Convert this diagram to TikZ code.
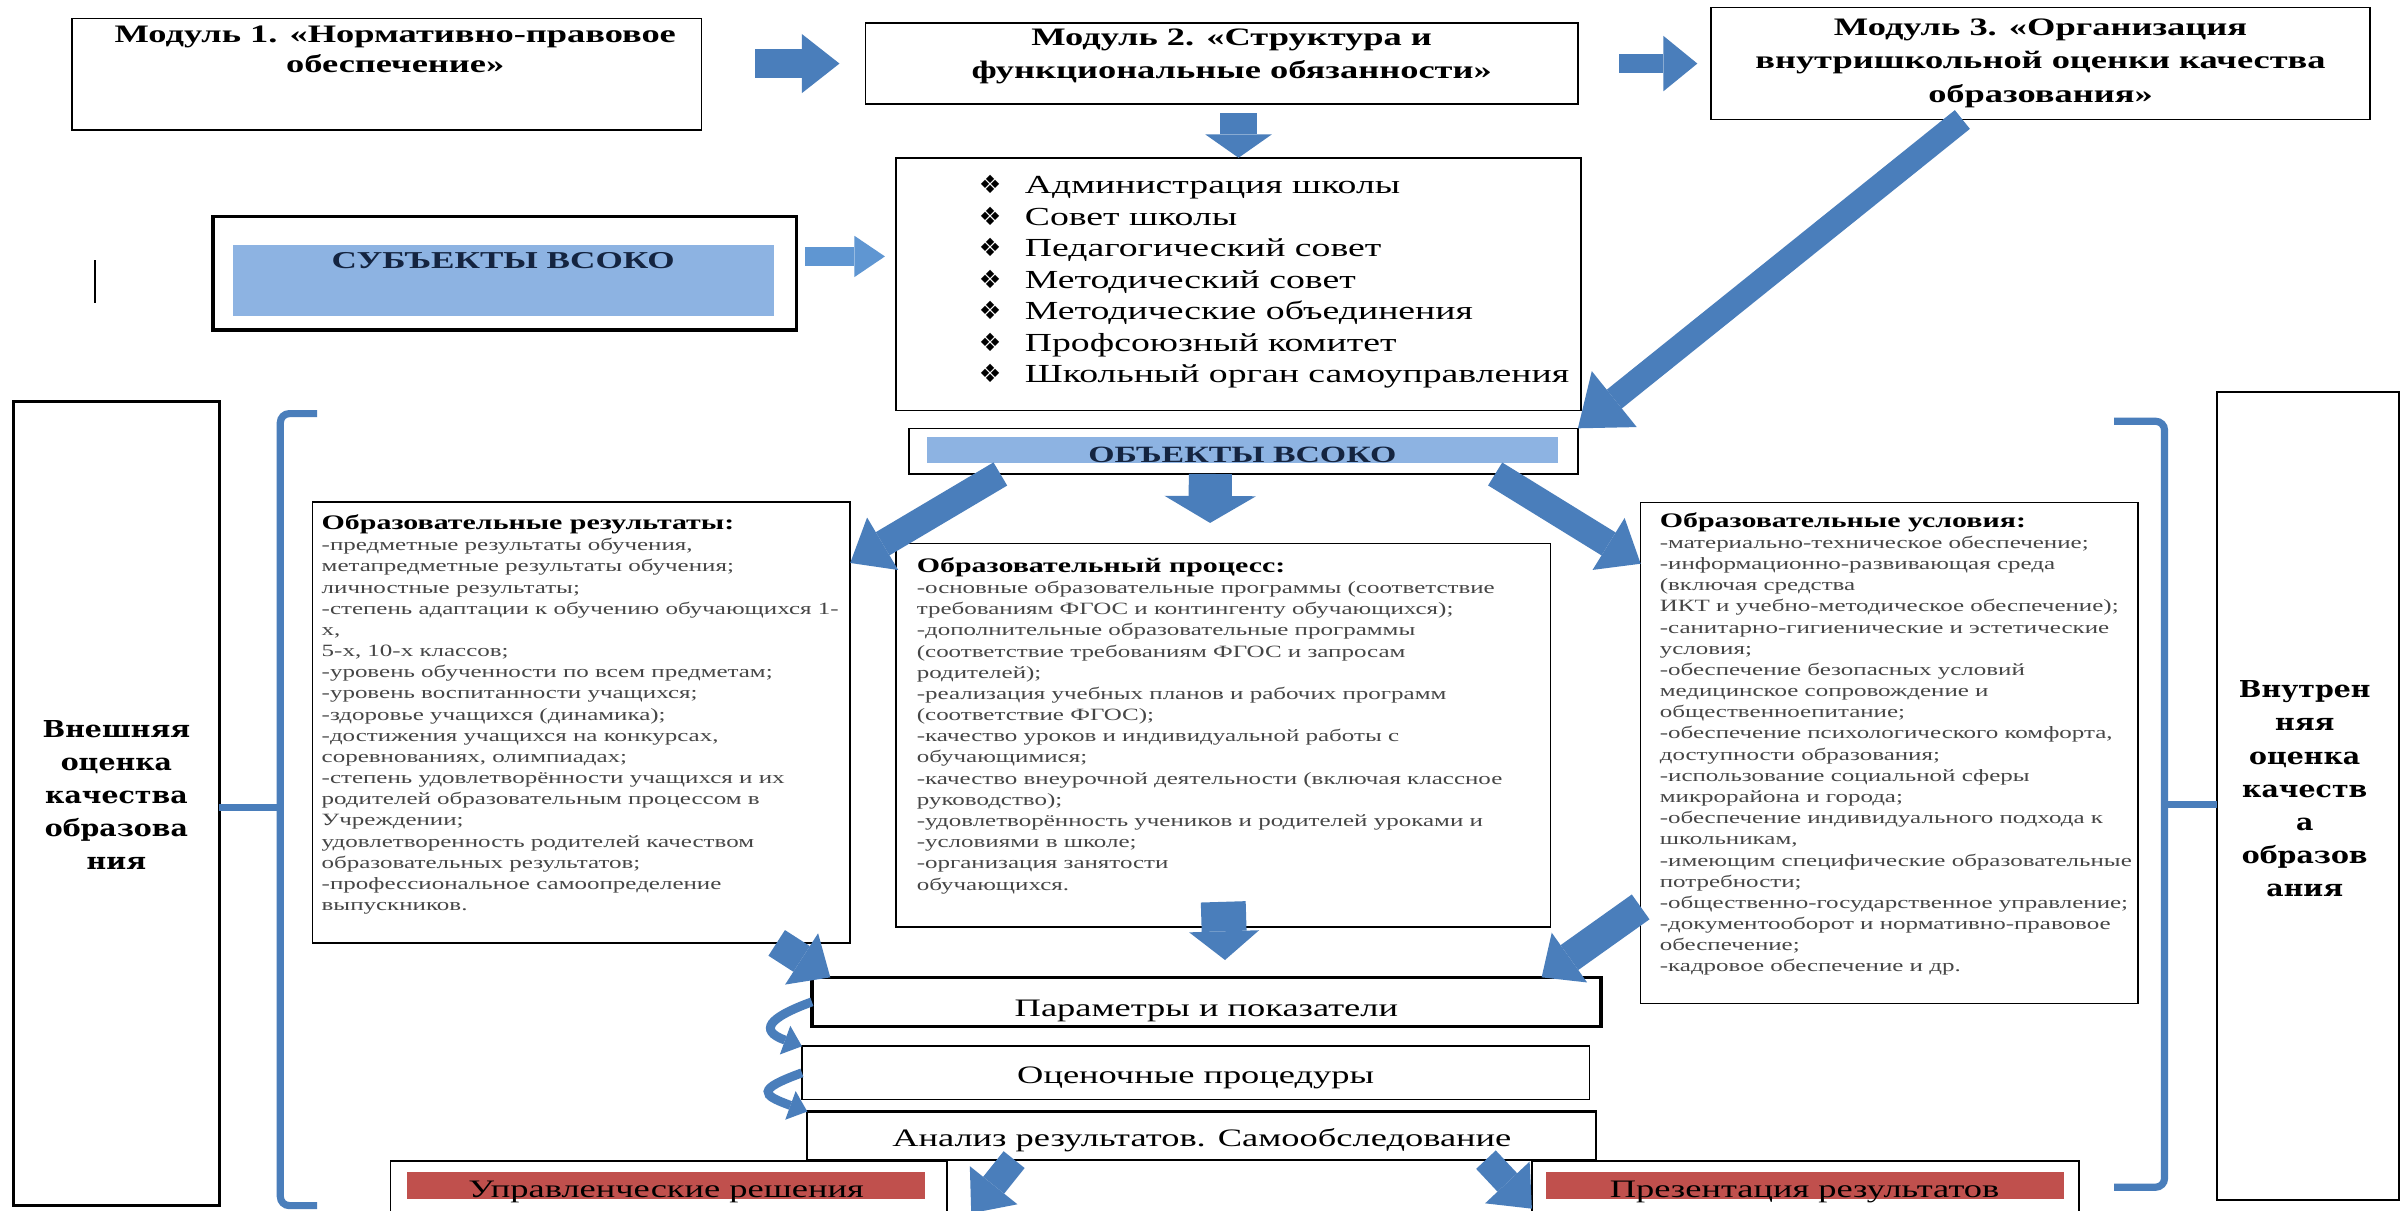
\documentclass[tikz,border=0pt]{standalone}
\usepackage{fontspec}
\setmainfont{Liberation Serif}[FakeStretch=1.45]
\newfontfamily\slabfont{DejaVu Serif}[FakeStretch=1.15]
\newfontfamily\dingfont{DejaVu Sans}
\usetikzlibrary{arrows.meta}

\definecolor{arrblue}{RGB}{74,126,187}
\definecolor{subjarr}{RGB}{95,150,210}
\definecolor{barblue}{RGB}{141,179,226}
\definecolor{barred}{RGB}{192,80,77}
\definecolor{navy}{RGB}{20,36,64}
\definecolor{greytxt}{RGB}{70,70,70}

\newcommand{\itm}{\mbox{\dingfont\fontsize{14}{14}\selectfont ❖}\hspace{0.9em}\rmfamily}

\begin{document}
\begin{tikzpicture}[x=0.03cm, y=-0.03cm,
	every node/.style={inner sep=0pt, outer sep=0pt},
	box/.style={draw, line width=0.9pt, anchor=north west},
	heavybox/.style={box, line width=2pt},
	bluebar/.style={anchor=north west, fill=barblue, text=navy, font=\fontsize{13.5}{13.5}\selectfont\bfseries},
	redbar/.style={anchor=north west, fill=barred, font=\fontsize{14}{14}\selectfont},
	modtext/.style={anchor=north, align=center, font=\fontsize{14}{16.5}\selectfont\bfseries},
	bodytext/.style={anchor=north west, align=left, text=greytxt, font=\fontsize{9.6}{11.8}\selectfont},
	sidetext/.style={align=center, font=\slabfont\bfseries\fontsize{13}{18.5}\selectfont},
	arr/.style n args={3}{arrblue, line width=#1, -{Triangle[length=#2, width=#3, line width=0pt]}},
	curv/.style={arrblue, line width=5pt, -{Triangle[length=10pt, width=17pt, line width=0pt]}},
	brace/.style={arrblue, line width=4pt, rounded corners=5pt}
	]

\useasboundingbox (0,0) rectangle (1568,790);
\fill[white] (0,0) rectangle (1568,790);
\clip (0,0) rectangle (1568,790);

\node[box, minimum width=12.33cm, minimum height=2.19cm] (m1) at (47,12) {};
\node[modtext] (m1txt) at (258,17) {Модуль 1. «Нормативно-правовое\\обеспечение»};
\node[box, minimum width=13.95cm, minimum height=1.59cm] (m2) at (565,15) {};
\node[modtext, font=\fontsize{14}{18}\selectfont\bfseries] (m2txt) at (804,19) {Модуль 2. «Структура и\\функциональные обязанности»};
\node[box, minimum width=12.9cm, minimum height=2.19cm] (m3) at (1117,5) {};
\node[modtext, font=\fontsize{14}{18.8}\selectfont\bfseries] (m3txt) at (1332,12) {Модуль 3. «Организация\\внутришкольной оценки качества\\образования»};

\node[box, minimum width=13.41cm, minimum height=4.95cm] (lst) at (585,103) {};
\node[anchor=west, align=left, font=\fontsize{14.5}{17.5}\selectfont] (lsttxt) at (639,184)
	{\itm Администрация школы\\ \itm Совет школы\\ \itm Педагогический совет\\ \itm Методический совет\\
	 \itm Методические объединения\\ \itm Профсоюзный комитет\\ \itm Школьный орган самоуправления};

\node[heavybox, minimum width=11.43cm, minimum height=2.22cm] (subj) at (139,141.4) {};
\node[bluebar, minimum width=10.59cm, text height=0.456cm, text depth=0.924cm] (subjbar) at (152,160) {СУБЪЕКТЫ ВСОКО};
\draw[line width=1.2pt] (62,170) -- (62,198);

\node[box, minimum width=13.095cm, minimum height=0.894cm] (obj) at (593.5,279.6) {};
\node[bluebar, font=\fontsize{13}{13}\selectfont\bfseries, minimum width=12.36cm, text height=0.51cm, text depth=0cm] (objbar) at (605,285) {ОБЪЕКТЫ ВСОКО};

\node[box, line width=1.6pt, minimum width=4.02cm, minimum height=15.75cm] (ext) at (9,262) {};
\node[sidetext] (exttxt) at (76,519) {Внешняя\\оценка\\качества\\образова\\ния};
\node[box, line width=1.1pt, minimum width=3.57cm, minimum height=15.81cm] (int) at (1447,256) {};
\node[sidetext] (inttxt) at (1504.5,515) {Внутрен\\няя\\оценка\\качеств\\а\\образов\\ания};

\node[box, minimum width=10.53cm, minimum height=8.64cm] (res) at (204,327.5) {};
\node[bodytext] (restxt) at (210,336) {{\fontsize{11.5}{11.8}\selectfont\bfseries\color{black}Образовательные результаты:}\\
	-предметные результаты обучения,\\
	метапредметные результаты обучения;\\
	личностные результаты;\\
	-степень адаптации к обучению обучающихся 1-\\
	х,\\
	5-х, 10-х классов;\\
	-уровень обученности по всем предметам;\\
	-уровень воспитанности учащихся;\\
	-здоровье учащихся (динамика);\\
	-достижения учащихся на конкурсах,\\
	соревнованиях, олимпиадах;\\
	-степень удовлетворённости учащихся и их\\
	родителей образовательным процессом в\\
	Учреждении;\\
	удовлетворенность родителей качеством\\
	образовательных результатов;\\
	-профессиональное самоопределение\\
	выпускников.};

\node[box, minimum width=12.81cm, minimum height=7.51cm] (proc) at (585,354.7) {};
\node[bodytext] (proctxt) at (598.5,364) {{\fontsize{11.5}{11.8}\selectfont\bfseries\color{black}Образовательный процесс:}\\
	-основные образовательные программы (соответствие\\
	требованиям ФГОС и контингенту обучающихся);\\
	-дополнительные образовательные программы\\
	(соответствие требованиям ФГОС и запросам\\
	родителей);\\
	-реализация учебных планов и рабочих программ\\
	(соответствие ФГОС);\\
	-качество уроков и индивидуальной работы с\\
	обучающимися;\\
	-качество внеурочной деятельности (включая классное\\
	руководство);\\
	-удовлетворённость учеников и родителей уроками и\\
	-условиями в школе;\\
	-организация занятости\\
	обучающихся.};

\node[box, minimum width=9.74cm, minimum height=9.81cm] (cond) at (1071,328) {};
\node[bodytext] (condtxt) at (1083.5,334.5) {{\fontsize{11.5}{11.8}\selectfont\bfseries\color{black}Образовательные условия:}\\
	-материально-техническое обеспечение;\\
	-информационно-развивающая среда\\
	(включая средства\\
	ИКТ и учебно-методическое обеспечение);\\
	-санитарно-гигиенические и эстетические\\
	условия;\\
	-обеспечение безопасных условий\\
	медицинское сопровождение и\\
	общественноепитание;\\
	-обеспечение психологического комфорта,\\
	доступности образования;\\
	-использование социальной сферы\\
	микрорайона и города;\\
	-обеспечение индивидуального подхода к\\
	школьникам,\\
	-имеющим специфические образовательные\\
	потребности;\\
	-общественно-государственное управление;\\
	-документооборот и нормативно-правовое\\
	обеспечение;\\
	-кадровое обеспечение и др.};

\node[heavybox, font=\fontsize{14}{14}\selectfont, minimum width=15.45cm, text height=0.76cm, text depth=0.2cm] (par) at (530,638) {Параметры и показатели};
\node[box, font=\fontsize{14}{14}\selectfont, minimum width=15.42cm, text height=0.72cm, text depth=0.32cm] (proced) at (523.5,683) {Оценочные процедуры};
\node[box, line width=1.2pt, font=\fontsize{14}{14}\selectfont, minimum width=15.45cm, text height=0.684cm, text depth=0.258cm] (anal) at (527,725.6) {Анализ результатов. Самообследование};

\node[box, minimum width=10.89cm, minimum height=1.35cm] (dec) at (255,758) {};
\node[redbar, minimum width=10.14cm, text height=0.516cm, text depth=0.03cm] (decbar) at (265.8,764.8) {Управленческие решения};
\node[box, minimum width=10.71cm, minimum height=1.35cm] (pres) at (1000,758) {};
\node[redbar, minimum width=10.14cm, text height=0.516cm, text depth=0.03cm] (presbar) at (1009,764.8) {Презентация результатов};

\coordinate (subjout) at ([yshift=0.33cm]subj.east);
\coordinate (lbtick) at (183,527);
\coordinate (rbtick) at (1413,525);
\coordinate (decin) at (634,792);
\coordinate (presin) at (1000,789);

\draw[arr={15.8pt}{21pt}{33pt}, shorten <=1.05cm, shorten >=0.51cm] (m1.east |- m2.west) -- (m2.west);
\draw[arr={11pt}{19pt}{31pt}, shorten <=0.81cm, shorten >=0.27cm] (m2.east) -- (m2.east -| m3.west);
\draw[arr={21pt}{13pt}{37pt}, shorten <=0.18cm] (m2.south -| lst.north) -- (lst.north);
\draw[arr={11pt}{17pt}{23pt}, subjarr, shorten <=0.165cm, shorten >=0.22cm] (subjout) -- (subjout -| lst.west);
\draw[arr={13.4pt}{26pt}{40pt}] ([xshift=-1.53cm]m3.south) -- (obj.north east);

\draw[arr={15pt}{21pt}{34pt}] ([xshift=1.785cm]obj.south west) -- ([yshift=-1.2cm]res.north east);
\draw[arr={24pt}{15pt}{51pt}, shorten >=0.4cm] ([xshift=-0.65cm]obj.south) -- ([xshift=-0.26cm]proc.north);
\draw[arr={15pt}{21pt}{34pt}] ([xshift=-1.62cm]obj.south east) -- ([yshift=-1.2cm]cond.north west);

\draw[arr={17pt}{19pt}{34pt}] ([xshift=-1.44cm]res.south east) -- ([xshift=0.36cm]par.north west);
\draw[arr={25pt}{16pt}{39pt}, shorten >=0.34cm] ([yshift=0.49cm]proc.south) -- ([xshift=0.375cm]par.north);
\draw[arr={17pt}{19pt}{34pt}] ([yshift=1.89cm]cond.south west) -- ([xshift=-1.16cm]par.north east);

\draw[curv] (par.west) to[out=200, in=160, looseness=2.6] (proced.north west);
\draw[curv] (proced.west) to[out=200, in=160, looseness=3.2] (anal.north west);

\draw[arr={15pt}{20pt}{34pt}] ([xshift=-3.675cm]anal.south) -- (decin);
\draw[arr={15pt}{20pt}{34pt}] ([xshift=5.565cm]anal.south) -- (presin);

\draw[brace] (207,270) -- (183,270) -- (183,787) -- (207,787);
\draw[brace] (lbtick) -- (lbtick -| ext.east);
\draw[brace] (1380,275) -- (1413,275) -- (1413,775) -- (1380,775);
\draw[brace] (rbtick) -- (rbtick -| int.west);

\end{tikzpicture}
\end{document}
